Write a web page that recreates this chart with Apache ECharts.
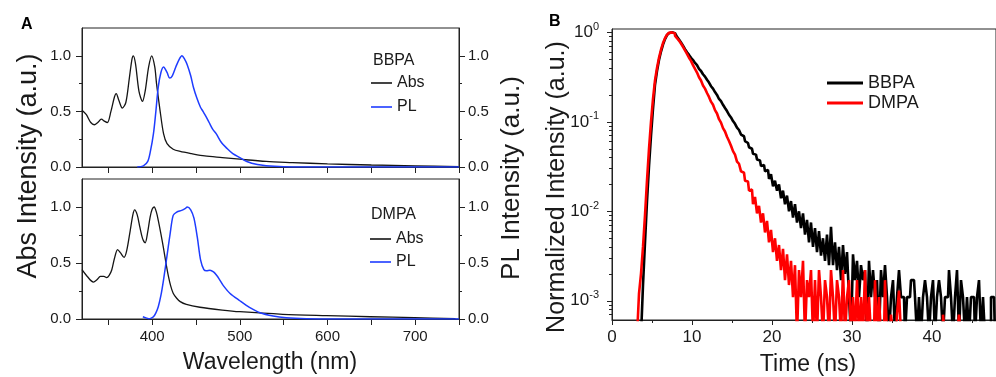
<!DOCTYPE html>
<html><head><meta charset="utf-8">
<script src="https://cdn.jsdelivr.net/npm/echarts@6/dist/echarts.min.js"></script>
<style>html,body{margin:0;padding:0;background:#fff}#c{width:996px;height:377px}</style>
</head><body><div id="c"></div>
<script>
// ---- Panel A data (wavelength in nm, normalized intensity) ----
const bbpaAbsWl = [320,325,330,334,338,342,346,349,353,357,359,362,366,370,374,377,378.5,381,385,389,392,396,399.5,403,405,409,413,417,424,432,445,460,480,500,530,560,600,650,700,750];
const bbpaAbsVal = [0.51,0.47,0.40,0.38,0.40,0.43,0.41,0.40,0.50,0.63,0.66,0.60,0.53,0.58,0.80,0.97,1.0,0.93,0.68,0.59,0.68,0.90,1.0,0.90,0.75,0.51,0.30,0.21,0.16,0.14,0.12,0.10,0.085,0.07,0.05,0.04,0.028,0.018,0.01,0.004];
const bbpaPlWl = [383,390,395,398,401.5,404,407,410,413,417,420,423,427,431,434,437,440,444,447,451,455,458,461,465,469,473,479,485,492,500,508,520,530,550,570,750];
const bbpaPlVal = [0,0.01,0.05,0.14,0.30,0.48,0.72,0.85,0.90,0.85,0.80,0.82,0.90,0.97,1.0,0.97,0.92,0.82,0.72,0.62,0.54,0.50,0.46,0.40,0.34,0.30,0.22,0.17,0.12,0.085,0.05,0.022,0.012,0.003,0,0];
const dmpaAbsWl = [320,326,333,337,341,345,348,351,354,357,360.6,364,368,371,375,378,380,383,386,389,392,395,397.7,400,402.3,405,407,410,413,416,418.6,421,424,428,432,439,454.5,480,500,549,599,649,699,746];
const dmpaAbsVal = [0.44,0.38,0.33,0.35,0.38,0.38,0.37,0.39,0.44,0.54,0.62,0.59,0.55,0.61,0.79,0.93,0.975,0.93,0.82,0.72,0.68,0.78,0.91,0.98,1.0,0.95,0.88,0.76,0.63,0.49,0.38,0.30,0.23,0.185,0.155,0.13,0.105,0.08,0.065,0.042,0.03,0.02,0.012,0.004];
const dmpaPlWl = [389.4,393,396,399,401.5,404,407,410,413,416.7,420.5,424,428,433.7,437.5,440,444,447.7,451.5,455.3,459,462,466,470,473.5,477,481,488.6,500,511,523,538,553,576,606,750];
const dmpaPlVal = [0.02,0.01,0.003,0.008,0.02,0.05,0.11,0.21,0.35,0.55,0.76,0.925,0.955,0.97,0.985,1.0,0.975,0.90,0.73,0.525,0.44,0.43,0.436,0.42,0.39,0.35,0.30,0.23,0.163,0.104,0.056,0.027,0.012,0.003,0,0];

// ---- Panel B data (time in ns, normalized intensity; 0.0004 = below axis / zero counts) ----
const decayTime = [3,3.25,3.5,3.75,4,4.25,4.5,4.75,5,5.25,5.5,5.75,6,6.25,6.5,6.75,7,7.25,7.5,7.75,8,8.25,8.5,8.75,9,9.25,9.5,9.75,10,10.25,10.5,10.75,11,11.25,11.5,11.75,12,12.25,12.5,12.75,13,13.25,13.5,13.75,14,14.25,14.5,14.75,15,15.25,15.5,15.75,16,16.25,16.5,16.75,17,17.25,17.5,17.75,18,18.25,18.5,18.75,19,19.25,19.5,19.75,20,20.25,20.5,20.75,21,21.25,21.5,21.75,22,22.25,22.5,22.75,23,23.25,23.5,23.75,24,24.25,24.5,24.75,25,25.25,25.5,25.75,26,26.25,26.5,26.75,27,27.25,27.5,27.75,28,28.25,28.5,28.75,29,29.25,29.5,29.75,30,30.25,30.5,30.75,31,31.25,31.5,31.75,32,32.25,32.5,32.75,33,33.25,33.5,33.75,34,34.25,34.5,34.75,35,35.25,35.5,35.75,36,36.25,36.5,36.75,37,37.25,37.5,37.75,38,38.25,38.5,38.75,39,39.25,39.5,39.75,40,40.25,40.5,40.75,41,41.25,41.5,41.75,42,42.25,42.5,42.75,43,43.25,43.5,43.75,44,44.25,44.5,44.75,45,45.25,45.5,45.75,46,46.25,46.5,46.75,47,47.25,47.5,47.75,48];
const bbpaDecay = [
0.0002,0.0002,0.0002,0.0004, 0.0015,0.0045,0.013,0.032, 0.07,0.14,0.26,0.37, 0.49,0.61,0.73,0.84,
0.93,0.98,1.0,0.98, 0.94,0.89,0.83,0.77, 0.71,0.65,0.60,0.56, 0.52,0.49,0.455,0.43,
0.39,0.37,0.34,0.32, 0.295,0.275,0.25,0.235, 0.215,0.2,0.18,0.17, 0.155,0.143,0.132,0.12,
0.112,0.102,0.095,0.086, 0.081,0.072,0.069,0.061, 0.058,0.052,0.050,0.044, 0.043,0.038,0.037,0.032,
0.033,0.028,0.029,0.023, 0.026,0.019,0.022,0.017, 0.020,0.014,0.017,0.012, 0.015,0.010,0.013,0.0085,
0.012,0.0075,0.010,0.0065, 0.0095,0.0055,0.008,0.0045, 0.0075,0.004,0.0065,0.0035, 0.006,0.0032,0.005,0.0028,
0.0055,0.0025,0.0067,0.0025, 0.0045,0.0022,0.004,0.0017, 0.0042,0.002,0.0035,0.0011, 0.0004,0.0033,0.0017,0.0028,
0.0011,0.0025,0.0017,0.0022, 0.0004,0.0028,0.0011,0.0022, 0.0011,0.0017,0.0004,0.0022, 0.0011,0.0025,0.0011,0.0004,
0.0011,0.0017,0.0004,0.0011, 0.0022,0.0011,0.0011,0.0004, 0.0011,0.0011,0.0017,0.0017, 0.0011,0.0004,0.0011,0.0004,
0.0011,0.0017,0.0011,0.0004, 0.0011,0.0017,0.0004,0.0011, 0.0017,0.0011,0.0004,0.0011, 0.0011,0.0022,0.0011,0.0004,
0.0011,0.0022,0.0004,0.0017, 0.0011,0.0004,0.0011,0.0004, 0.0011,0.0011,0.0004,0.0011, 0.0017,0.0004,0.0011,0.0004,
0.0004,0.0004,0.0011,0.0011, 0.0004];
const dmpaDecay = [
0.0002,0.0004,0.0012,0.002, 0.004,0.009,0.022,0.05, 0.1,0.18,0.29,0.40, 0.52,0.64,0.76,0.86,
0.94,0.99,1.0,0.97, 0.92,0.86,0.81,0.75, 0.69,0.63,0.575,0.52, 0.48,0.43,0.39,0.355,
0.315,0.29,0.255,0.235, 0.21,0.19,0.168,0.155, 0.135,0.124,0.107,0.098, 0.085,0.078,0.068,0.061,
0.054,0.047,0.043,0.036, 0.034,0.028,0.027,0.022, 0.0215,0.017,0.0175,0.012, 0.0145,0.0095,0.0115,0.0075,
0.0095,0.0058,0.0078,0.0045, 0.0062,0.0035,0.005,0.0028, 0.0042,0.0022,0.0038,0.0017, 0.0033,0.0015,0.0028,0.0011,
0.0025,0.0004,0.0022,0.0011, 0.0028,0.0004,0.0017,0.0011, 0.0022,0.0004,0.0017,0.0004, 0.0022,0.0011,0.0004,0.0017,
0.0011,0.0004,0.0022,0.0011, 0.0004,0.0017,0.0011,0.0004, 0.0022,0.0004,0.0011,0.0017, 0.0004,0.0011,0.0004,0.0017,
0.0004,0.0011,0.0004,0.0022, 0.0004,0.0011,0.0004,0.0004, 0.0017,0.0004,0.0011,0.0004, 0.0004,0.0017,0.0004,0.0004,
0.0007,0.0004,0.0004,0.0007, 0.0013,0.0004,0.0004,0.0004, 0.0004,0.0004,0.0004,0.0004, 0.0004,0.0004,0.0004,0.0004,
0.0004,0.0004,0.0004,0.0004, 0.0004,0.0004,0.0004,0.0004, 0.0004,0.0004,0.0007,0.0004, 0.0004,0.0004,0.0004,0.0004,
0.0004,0.0004,0.0007,0.0004, 0.0004,0.0004,0.0004,0.0004, 0.0004,0.0004,0.0004,0.0004, 0.0004,0.0004,0.0004,0.0004,
0.0004,0.0004,0.0004,0.0004, 0.0004];

// ---- Axis tick / label values ----
const aXTicks = [350,400,450,500,550,600,650,700,750];
const aXLabels = [400,500,600,700];
const aYMajor = [0,0.5,1.0];
const aYMinor = [0.25,0.75];
const bXMajor = [0,10,20,30,40];
const bXMinor = [5,15,25,35,45];
const bYDecades = [0.001,0.01,0.1,1];
const bYMinor = [0.0007,0.0008,0.0009,0.002,0.003,0.004,0.005,0.006,0.007,0.008,0.009,0.02,0.03,0.04,0.05,0.06,0.07,0.08,0.09,0.2,0.3,0.4,0.5,0.6,0.7,0.8,0.9];

const FONT = '"Liberation Sans", Arial, Helvetica, sans-serif';
const TXT = '#1a1a1a';
const AX = '#222';
const pair = (xs, ys) => xs.map((x, i) => [x, ys[i]]);

function aYAxis(gridIndex, position, minor) {
  return {
    type: 'value', gridIndex, position, min: 0, max: 1.25,
    axisLine: {show: !minor, onZero: false, lineStyle: {color: AX, width: 1}},
    axisTick: {show: true, customValues: minor ? aYMinor : aYMajor, length: minor ? 3 : 6, lineStyle: {color: AX, width: 1}},
    axisLabel: minor ? {show: false} : {show: true, customValues: aYMajor, formatter: v => v.toFixed(1),
      margin: position === 'left' ? 11 : 9, fontSize: 15, color: TXT, fontFamily: FONT},
    splitLine: {show: false}
  };
}
function aXAxis(gridIndex, labels) {
  return {
    type: 'value', gridIndex, position: 'bottom', min: 320, max: 750,
    axisLine: {show: true, onZero: false, lineStyle: {color: AX, width: 1}},
    axisTick: {show: true, customValues: aXTicks, length: 6, lineStyle: {color: AX, width: 1}},
    axisLabel: labels ? {show: true, customValues: aXLabels, margin: 10, fontSize: 15, color: TXT, fontFamily: FONT} : {show: false},
    splitLine: {show: false}
  };
}
const logMin = 0.00061, logMax = 1.09;

const option = {
  animation: false,
  backgroundColor: '#ffffff',
  grid: [
    {left: 82, top: 28, width: 377, height: 139, show: true, borderColor: AX, borderWidth: 1},
    {left: 82, top: 179, width: 377, height: 140, show: true, borderColor: AX, borderWidth: 1},
    {left: 612, top: 29, width: 384, height: 291, show: true, borderColor: AX, borderWidth: 1}
  ],
  xAxis: [
    aXAxis(0, false),
    aXAxis(1, true),
    {type: 'value', gridIndex: 2, position: 'bottom', min: 0, max: 48,
      axisLine: {show: true, onZero: false, lineStyle: {color: AX, width: 1}},
      axisTick: {show: true, customValues: bXMajor, length: 5, lineStyle: {color: AX}},
      axisLabel: {show: true, customValues: bXMajor, margin: 9, fontSize: 17, color: TXT, fontFamily: FONT},
      splitLine: {show: false}},
    {type: 'value', gridIndex: 2, position: 'bottom', min: 0, max: 48,
      axisLine: {show: false, onZero: false},
      axisTick: {show: true, customValues: bXMinor, length: 3, lineStyle: {color: AX}},
      axisLabel: {show: false}, splitLine: {show: false}}
  ],
  yAxis: [
    aYAxis(0, 'left', false), aYAxis(0, 'left', true), aYAxis(0, 'right', false), aYAxis(0, 'right', true),
    aYAxis(1, 'left', false), aYAxis(1, 'left', true), aYAxis(1, 'right', false), aYAxis(1, 'right', true),
    {type: 'log', logBase: 10, gridIndex: 2, position: 'left', min: logMin, max: logMax,
      axisLine: {show: true, onZero: false, lineStyle: {color: AX, width: 1}},
      axisTick: {show: false}, minorTick: {show: false}, splitLine: {show: false},
      axisLabel: {show: true, margin: 13, color: TXT, fontFamily: FONT,
        formatter: v => { const e = Math.log10(v); const r = Math.round(e); return Math.abs(e - r) > 1e-6 ? '' : '{b|10}{s|' + r + '}'; },
        rich: {b: {fontSize: 17, lineHeight: 22, fontFamily: FONT, color: TXT},
               s: {fontSize: 11, lineHeight: 12, verticalAlign: 'top', fontFamily: FONT, color: TXT}}}},
    {type: 'value', gridIndex: 2, position: 'left', min: Math.log10(logMin), max: Math.log10(logMax),
      axisLine: {show: false, onZero: false}, axisLabel: {show: false}, splitLine: {show: false},
      axisTick: {show: true, customValues: bYDecades.map(Math.log10), length: 5, lineStyle: {color: AX}}},
    {type: 'value', gridIndex: 2, position: 'left', min: Math.log10(logMin), max: Math.log10(logMax),
      axisLine: {show: false, onZero: false}, axisLabel: {show: false}, splitLine: {show: false},
      axisTick: {show: true, customValues: bYMinor.map(Math.log10), length: 3, lineStyle: {color: AX}}}
  ],
  legend: [
    {data: ['Abs', 'PL'], left: 371, top: 75, orient: 'vertical', icon: 'rect', itemWidth: 21, itemHeight: 1.6, itemGap: 8,
      selectedMode: false, textStyle: {fontSize: 16, color: TXT, fontFamily: FONT}, padding: 0},
    {data: ['Abs', 'PL'], left: 370, top: 231, orient: 'vertical', icon: 'rect', itemWidth: 21, itemHeight: 1.6, itemGap: 7,
      selectedMode: false, textStyle: {fontSize: 16, color: TXT, fontFamily: FONT}, padding: 0},
    {data: ['BBPA', 'DMPA'], left: 827, top: 74, orient: 'vertical', icon: 'rect', itemWidth: 36, itemHeight: 3, itemGap: 2,
      selectedMode: false, textStyle: {fontSize: 18, color: TXT, fontFamily: FONT}, padding: 0}
  ],
  series: [
    {type: 'line', name: 'Abs', xAxisIndex: 0, yAxisIndex: 0, data: pair(bbpaAbsWl, bbpaAbsVal), smooth: 0.3, symbol: 'none',
      lineStyle: {color: '#151515', width: 1.3}, itemStyle: {color: '#151515'}},
    {type: 'line', name: 'PL', xAxisIndex: 0, yAxisIndex: 2, data: pair(bbpaPlWl, bbpaPlVal), smooth: 0.3, symbol: 'none',
      lineStyle: {color: '#1e3cff', width: 1.5}, itemStyle: {color: '#1e3cff'}},
    {type: 'line', name: 'Abs', xAxisIndex: 1, yAxisIndex: 4, data: pair(dmpaAbsWl, dmpaAbsVal), smooth: 0.3, symbol: 'none',
      lineStyle: {color: '#151515', width: 1.3}, itemStyle: {color: '#151515'}},
    {type: 'line', name: 'PL', xAxisIndex: 1, yAxisIndex: 6, data: pair(dmpaPlWl, dmpaPlVal), smooth: 0.3, symbol: 'none',
      lineStyle: {color: '#1e3cff', width: 1.5}, itemStyle: {color: '#1e3cff'}},
    {type: 'line', name: 'BBPA', xAxisIndex: 2, yAxisIndex: 8, data: pair(decayTime, bbpaDecay), symbol: 'none', clip: true, step: 'middle',
      lineStyle: {color: '#000000', width: 2.6}, itemStyle: {color: '#000000'}},
    {type: 'line', name: 'DMPA', xAxisIndex: 2, yAxisIndex: 8, data: pair(decayTime, dmpaDecay), symbol: 'none', clip: true, step: 'middle',
      lineStyle: {color: '#ff0000', width: 2.6}, itemStyle: {color: '#ff0000'}}
  ],
  graphic: [
    {type: 'text', x: 21, y: 25, style: {text: 'A', fontSize: 16, fontWeight: 'bold', fontFamily: FONT, fill: '#000', align: 'left', verticalAlign: 'middle'}},
    {type: 'text', x: 549, y: 22, style: {text: 'B', fontSize: 16, fontWeight: 'bold', fontFamily: FONT, fill: '#000', align: 'left', verticalAlign: 'middle'}},
    {type: 'text', x: 373, y: 61, style: {text: 'BBPA', fontSize: 16, fontFamily: FONT, fill: TXT, align: 'left', verticalAlign: 'middle'}},
    {type: 'text', x: 371, y: 215, style: {text: 'DMPA', fontSize: 16, fontFamily: FONT, fill: TXT, align: 'left', verticalAlign: 'middle'}},
    {type: 'text', x: 29, y: 166, rotation: Math.PI / 2, style: {text: 'Abs Intensity (a.u.)', fontSize: 27, fontFamily: FONT, fill: TXT, align: 'center', verticalAlign: 'middle'}},
    {type: 'text', x: 512, y: 178, rotation: Math.PI / 2, style: {text: 'PL Intensity (a.u.)', fontSize: 26, fontFamily: FONT, fill: TXT, align: 'center', verticalAlign: 'middle'}},
    {type: 'text', x: 270, y: 363, style: {text: 'Wavelength (nm)', fontSize: 23, fontFamily: FONT, fill: TXT, align: 'center', verticalAlign: 'middle'}},
    {type: 'text', x: 557, y: 187, rotation: Math.PI / 2, style: {text: 'Normalized Intensity (a.u.)', fontSize: 25, fontFamily: FONT, fill: TXT, align: 'center', verticalAlign: 'middle'}},
    {type: 'text', x: 808, y: 365, style: {text: 'Time (ns)', fontSize: 23, fontFamily: FONT, fill: TXT, align: 'center', verticalAlign: 'middle'}}
  ]
};
const chart = echarts.init(document.getElementById('c'));
chart.setOption(option);
</script>
</body></html>
